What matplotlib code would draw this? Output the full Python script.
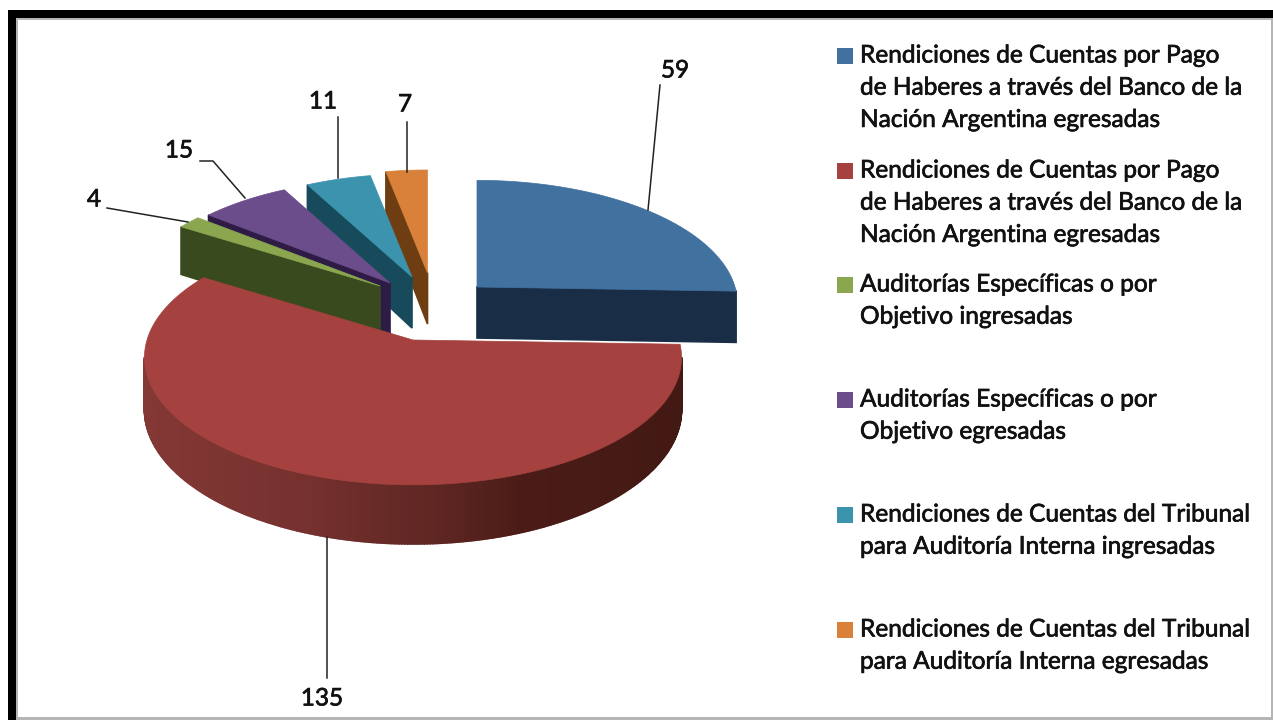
import numpy as np
import matplotlib
matplotlib.use("Agg")
import matplotlib.pyplot as plt
import matplotlib.patheffects as pe
from matplotlib.colors import LinearSegmentedColormap
from matplotlib.patches import Polygon, Rectangle

# -----------------------------
# DATA
# -----------------------------
values = [59, 135, 4, 15, 11, 7]
legend_labels = [
    "Rendiciones de Cuentas por Pago\nde Haberes a través del Banco de la\nNación Argentina egresadas",
    "Rendiciones de Cuentas por Pago\nde Haberes a través del Banco de la\nNación Argentina egresadas",
    "Auditorías Específicas o por\nObjetivo ingresadas",
    "Auditorías Específicas o por\nObjetivo egresadas",
    "Rendiciones de Cuentas del Tribunal\npara Auditoría Interna ingresadas",
    "Rendiciones de Cuentas del Tribunal\npara Auditoría Interna egresadas",
]

# -----------------------------
# STYLE
# -----------------------------
top_colors = ["#41719f", "#a5423f", "#8aa64f", "#6b4d8c", "#3c93ae", "#d9813a"]
side_colors = ["#1a2d47", "#6e2c2a", "#384a1e", "#2e1c47", "#174b5c", "#6e3e12"]
red_wall = LinearSegmentedColormap.from_list(
    "red_wall",
    [(0, "#843835"), (0.3, "#75312e"), (0.55, "#5e2622"), (0.7, "#4b1c17"), (1, "#431914")],
)

# apex of every slice in pixels, and its radius scale (the slices are exploded)
apex = [(477, 287), (413, 340), (380, 286), (390, 283), (412, 277), (427.5, 273)]
scale = [0.97, 1.0, 0.95, 0.947, 0.937, 0.937]
draw_order = [5, 4, 3, 2, 0, 1]

RX, RY, PERSP, DEPTH = 266, 125, 0.137, 51

legend_y = [56, 171, 285, 400, 515, 630]
LINE_STEP = 32.2

# (value, text x, text y, leader line x points, leader line y points)
data_labels = [
    (59, 675, 71, [648, 660], [210, 85]),
    (135, 322, 699, [327, 327], [537, 678]),
    (4, 94, 200, [188, 107], [222, 208]),
    (15, 179, 151, [245, 213, 200], [198, 161, 161]),
    (11, 323, 102, [338, 338], [178, 117]),
    (7, 405, 105, [407, 407], [172, 122]),
]

plt.rcParams["font.family"] = ["Lato", "DejaVu Sans"]
heavier = [pe.withStroke(linewidth=0.5, foreground="#111111")]

fig = plt.figure(figsize=(12.73, 7.2), dpi=100)
ax = fig.add_axes([0, 0, 1, 1])
ax.set_xlim(0, 1273)
ax.set_ylim(720, 0)
ax.axis("off")

# frame
ax.add_patch(Rectangle((8, 10), 1300, 800, fc="black", ec="none", zorder=0))
ax.add_patch(Rectangle((16, 18), 1300, 800, fc="#b5b5b5", ec="none", zorder=0))
ax.add_patch(Rectangle((18, 20), 1253, 697, fc="white", ec="none", zorder=0))


def project(angle, i):
    # angle in degrees, clockwise from 12 o'clock, with a simple perspective
    x, y = np.sin(np.radians(angle)), np.cos(np.radians(angle))
    w = 1 + PERSP * y
    return (
        apex[i][0] + scale[i] * RX * x / w,
        apex[i][1] - scale[i] * RY * y / w,
        DEPTH / w,
    )


edges = np.cumsum([0] + values) / sum(values) * 360
z = 1
for i in draw_order:
    arc = np.linspace(edges[i], edges[i + 1], max(int(values[i] * 3), 12))
    px, py, pd = project(arc, i)
    xs = np.r_[apex[i][0], px]
    ys = np.r_[apex[i][1], py]
    ds = np.r_[DEPTH, pd]

    # walls: only the edges that run leftwards face the viewer
    for k in range(len(xs)):
        n = (k + 1) % len(xs)
        if xs[n] >= xs[k]:
            continue
        color = side_colors[i]
        if i == 1:
            color = red_wall(np.clip((xs[k] - 145) / (682 - 145), 0, 1))
        wall = [
            (xs[k], ys[k]),
            (xs[n], ys[n]),
            (xs[n], ys[n] + ds[n]),
            (xs[k], ys[k] + ds[k]),
        ]
        ax.add_patch(Polygon(wall, fc=color, ec=color, lw=1.2, zorder=z))
    z += 1
    ax.add_patch(
        Polygon(np.c_[xs, ys], fc=top_colors[i], ec=top_colors[i], lw=0.5, zorder=z)
    )
    z += 1

# data labels and leader lines
for value, tx, ty, lx, ly in data_labels:
    ax.plot(lx, ly, color="#222222", lw=1.1, zorder=z)
    ax.text(
        tx, ty, str(value), fontsize=17.5, color="#111111", ha="center", va="center",
        zorder=z, path_effects=heavier,
    )

# legend
for label, color, y in zip(legend_labels, top_colors, legend_y):
    ax.add_patch(Rectangle((837, y - 8), 16, 16, fc=color, ec="none", zorder=z))
    for k, line in enumerate(label.split("\n")):
        ax.text(
            860, y + k * LINE_STEP, line, fontsize=17.6, color="#111111",
            ha="left", va="center", zorder=z, path_effects=heavier,
        )

fig.savefig("out.png", dpi=100)
